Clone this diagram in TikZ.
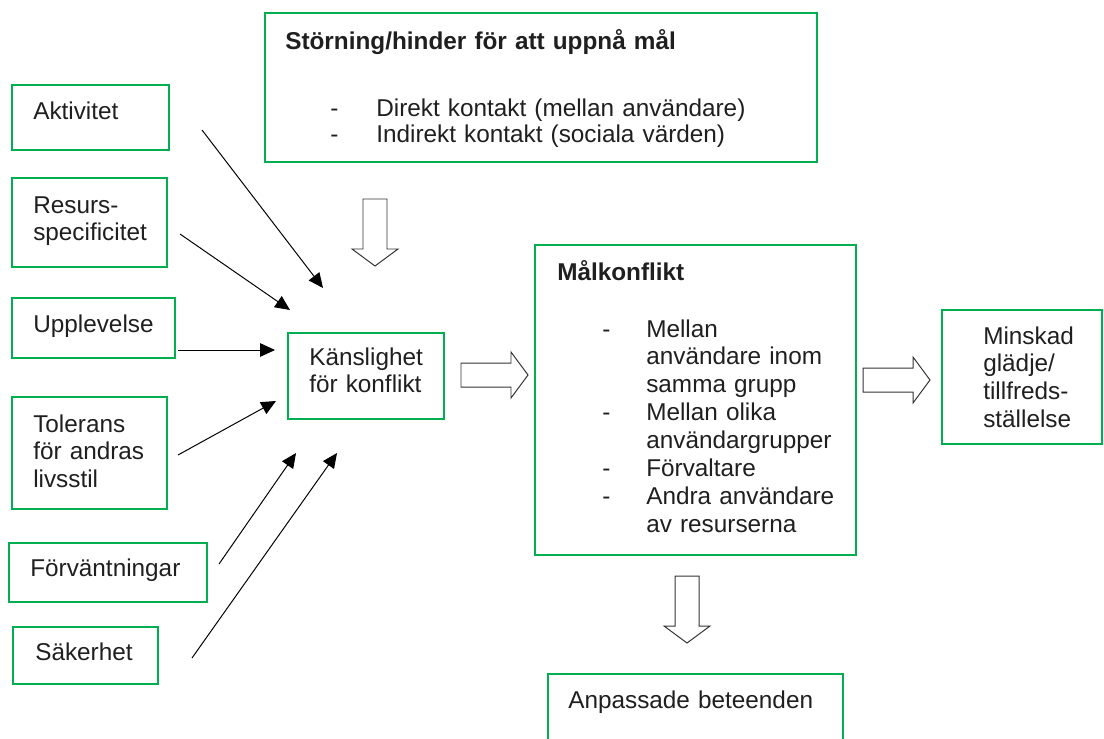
\documentclass[tikz,border=0pt]{standalone}
\usepackage{fontspec}
\setmainfont{Liberation Sans}
\usetikzlibrary{arrows.meta,fit}
\definecolor{boxgreen}{RGB}{0,176,80}

\begin{document}
\begin{tikzpicture}[x=0.025cm,y=-0.025cm,
    box/.style={draw=boxgreen,line width=1.8pt,inner sep=0pt},
    lbl/.style={anchor=base west,inner sep=0pt,text width=10cm,align=left,
      font=\fontsize{17.3}{19.9}\selectfont,text=black!88},
    thin/.style={line width=0.7pt,-{Triangle[length=10.5pt,width=9.5pt]}},
    blockarrow/.pic={\draw[line width=0.7pt,draw=black!80,fill=white]
      (0,-12) -- (50,-12) -- (50,-23) -- (67,0) -- (50,23) -- (50,12) -- (0,12) -- cycle;}]
  \useasboundingbox (0,0) rectangle (1104,738);
  \clip (0,0) rectangle (1104,738);

  % boxes
  \node[box,fit={(12,85) (169,150)}] (akt) {};
  \node[box,fit={(12,178) (167,267)}] (res) {};
  \node[box,fit={(12,298) (175,358)}] (upp) {};
  \node[box,fit={(12,397) (167,509)}] (tol) {};
  \node[box,fit={(9,543) (207,602)}] (forv) {};
  \node[box,fit={(13,627) (158,684)}] (sak) {};
  \node[box,fit={(288,333) (444,419)}] (kansl) {};
  \node[box,fit={(265,13) (817,162)}] (storn) {};
  \node[box,fit={(535,245) (856,555)}] (mal) {};
  \node[box,fit={(942,310) (1102,444)}] (minsk) {};
  \node[box,fit={(548,674) (843,760)}] (anp) {};

  % texts
  \node[lbl] (akt-t) at (33,119) {Aktivitet};
  \node[lbl] (res-t) at (33,213) {Resurs-\\specificitet};
  \node[lbl] (upp-t) at (33,332) {Upplevelse};
  \node[lbl] (tol-t) at (33,432) {Tolerans\\för andras\\livsstil};
  \node[lbl] (forv-t) at (30,576) {Förväntningar};
  \node[lbl] (sak-t) at (35,660) {Säkerhet};
  \node[lbl] (kansl-t) at (309,365) {Känslighet\\för konflikt};
  \node[lbl,font=\fontsize{17.3}{19.9}\selectfont\bfseries] (storn-t) at (285,49)
    {Störning/hinder för att uppnå mål};
  \node[lbl,font=\fontsize{17.3}{18.5}\selectfont] (storn-l) at (330,116)
    {\begin{tabular}[t]{@{}p{1.15cm}@{}l@{}}
      - & Direkt kontakt (mellan användare)\\
      - & Indirekt kontakt (sociala värden)
    \end{tabular}};
  \node[lbl,font=\fontsize{17.3}{19.9}\selectfont\bfseries] (mal-t) at (557,280) {Målkonflikt};
  \node[lbl] (mal-l) at (602,337)
    {\begin{tabular}[t]{@{}p{1.1cm}@{}l@{}}
      - & Mellan\\
        & användare inom\\
        & samma grupp\\
      - & Mellan olika\\
        & användargrupper\\
      - & Förvaltare\\
      - & Andra användare\\
        & av resurserna
    \end{tabular}};
  \node[lbl] (minsk-t) at (983,344) {Minskad\\glädje/\\tillfreds-\\ställelse};
  \node[lbl] (anp-t) at (568,708) {Anpassade beteenden};

  % ends of the thin arrows
  \coordinate (akt-o) at (202,130);   \coordinate (k-in1) at (323,288);
  \coordinate (res-o) at (180,234);   \coordinate (k-in2) at (290,310);
  \coordinate (upp-o) at (178,350);   \coordinate (k-in3) at (275,350);
  \coordinate (tol-o) at (178,455);   \coordinate (k-in4) at (276,401);
  \coordinate (forv-o) at (219,564);  \coordinate (k-in5) at (296,453);
  \coordinate (sak-o) at (192,658);   \coordinate (k-in6) at (337,453);

  \draw[thin] (akt-o) -- (k-in1);
  \draw[thin] (res-o) -- (k-in2);
  \draw[thin] (upp-o) -- (k-in3);
  \draw[thin] (tol-o) -- (k-in4);
  \draw[thin] (forv-o) -- (k-in5);
  \draw[thin] (sak-o) -- (k-in6);

  % hollow arrows
  \pic[rotate=-90] at (375,199) {blockarrow};
  \pic at (461,375) {blockarrow};
  \pic at (863,380) {blockarrow};
  \pic[rotate=-90] at (687,576) {blockarrow};
\end{tikzpicture}
\end{document}
